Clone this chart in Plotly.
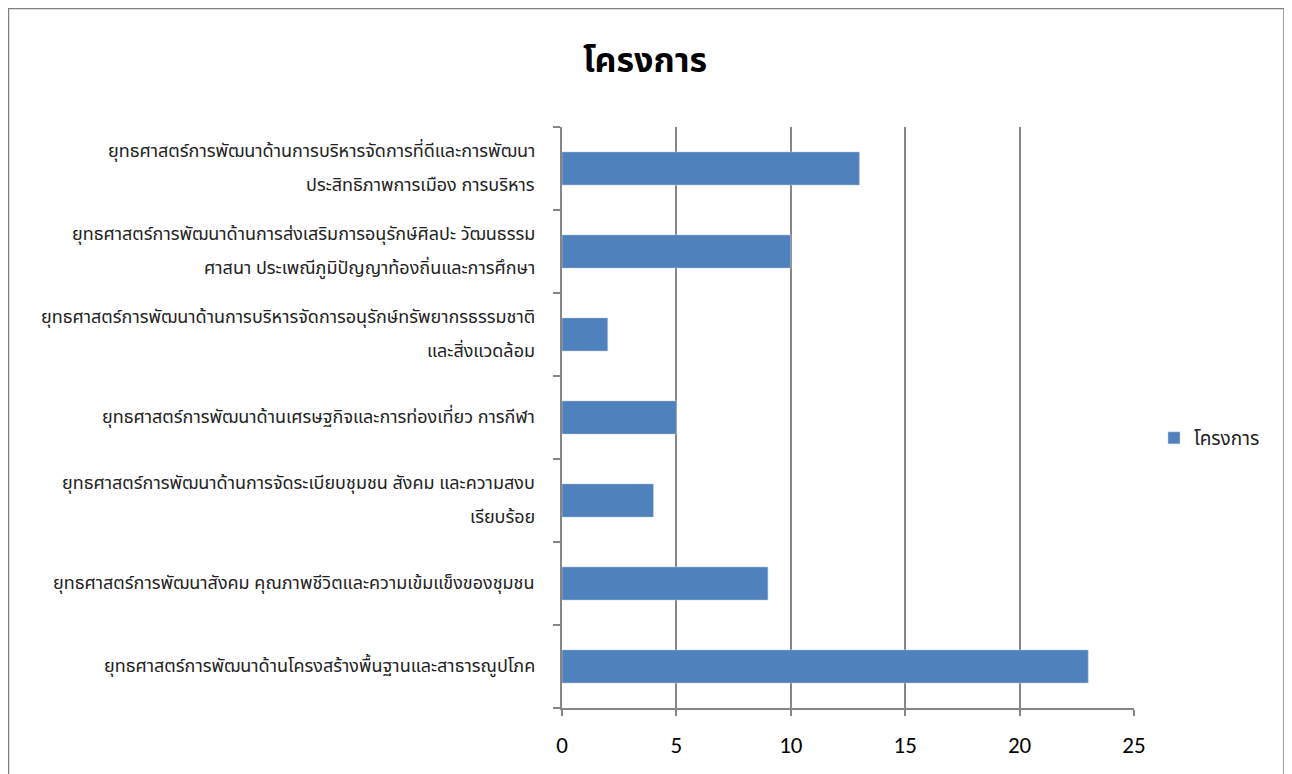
import plotly.graph_objects as go

categories = [
    "ยุทธศาสตร์การพัฒนาด้านโครงสร้างพื้นฐานและสาธารณูปโภค",
    "ยุทธศาสตร์การพัฒนาสังคม คุณภาพชีวิตและความเข้มแข็งของชุมชน",
    "ยุทธศาสตร์การพัฒนาด้านการจัดระเบียบชุมชน สังคม และความสงบ\nเรียบร้อย",
    "ยุทธศาสตร์การพัฒนาด้านเศรษฐกิจและการท่องเที่ยว การกีฬา",
    "ยุทธศาสตร์การพัฒนาด้านการบริหารจัดการอนุรักษ์ทรัพยากรธรรมชาติ\nและสิ่งแวดล้อม",
    "ยุทธศาสตร์การพัฒนาด้านการส่งเสริมการอนุรักษ์ศิลปะ วัฒนธรรม\nศาสนา ประเพณีภูมิปัญญาท้องถิ่นและการศึกษา",
    "ยุทธศาสตร์การพัฒนาด้านการบริหารจัดการที่ดีและการพัฒนา\nประสิทธิภาพการเมือง การบริหาร",
]
values = [23, 9, 4, 5, 2, 10, 13]
series_name = "โครงการ"
title_text = "โครงการ"
x_ticks = [0, 5, 10, 15, 20, 25]

THAI = "Tahoma, 'Noto Sans Thai', 'DejaVu Sans', 'Noto Sans', sans-serif"
GRID = "#868686"

# page body has an 8px offset
OFF = 8
W, H = 1292 - OFF, 774 - OFF
L, R, T, B = 562 - OFF, 158, 127 - OFF, 66
pw, ph = W - L - R, H - T - B

def px(xs):
    return (xs - OFF - L) / pw

def py(ys):
    return (H - B - (ys - OFF)) / ph

fig = go.Figure()
fig.add_trace(go.Bar(
    y=list(range(len(categories))), x=values, orientation="h",
    name=series_name, width=0.4,
    marker=dict(color="#4F81BD", line=dict(color="#C6D4E8", width=0.5)),
))

annotations = []
for i, lab in enumerate(categories):
    lines = lab.split("\n")
    n = len(lines)
    for j, ln in enumerate(lines):
        annotations.append(dict(
            x=0, xref="paper", y=i, yref="y", text=ln, showarrow=False,
            xanchor="right", yanchor="middle", xshift=-25,
            yshift=(n - 1) * 17 - j * 34,
            font=dict(family=THAI, size=18, color="#222222"),
        ))

fig.update_layout(
    width=W, height=H,
    margin=dict(l=L, r=R, t=T, b=B),
    paper_bgcolor="white", plot_bgcolor="white",
    title=dict(text=title_text, x=(645 - OFF) / W, xanchor="center", y=1 - (60 - OFF) / H, yanchor="middle",
               font=dict(family=THAI, size=34, color="#000000", weight="bold")),
    showlegend=True,
    legend=dict(x=px(1154), y=py(438), xanchor="left", yanchor="middle",
                font=dict(family=THAI, size=19, color="#222222"), itemwidth=30),
    annotations=annotations,
    xaxis=dict(range=[0, 25], tickvals=x_ticks, showgrid=True, gridcolor=GRID, gridwidth=1.5,
               showline=True, linecolor=GRID, linewidth=1.5, ticks="outside", ticklen=6,
               tickcolor=GRID, tickwidth=1.5, zeroline=False, ticklabelstandoff=10,
               tickfont=dict(family="Carlito, Calibri, 'Open Sans', sans-serif", size=23, color="#000000"),
               fixedrange=True),
    yaxis=dict(range=[-0.5, len(categories) - 0.5], tickmode="array",
               tickvals=[k - 0.5 for k in range(len(categories) + 1)], ticktext=[""] * (len(categories) + 1),
               showgrid=False, showline=True, linecolor=GRID, linewidth=1.5,
               ticks="outside", ticklen=7, tickcolor=GRID, tickwidth=1.5, zeroline=False,
               fixedrange=True),
    shapes=[dict(type="rect", xref="paper", yref="paper",
                 x0=px(8.5), x1=px(1284), y0=py(800), y1=py(8.5),
                 line=dict(color="#808080", width=1.5), fillcolor="rgba(0,0,0,0)", layer="below")],
)

fig.write_html("out.html")
